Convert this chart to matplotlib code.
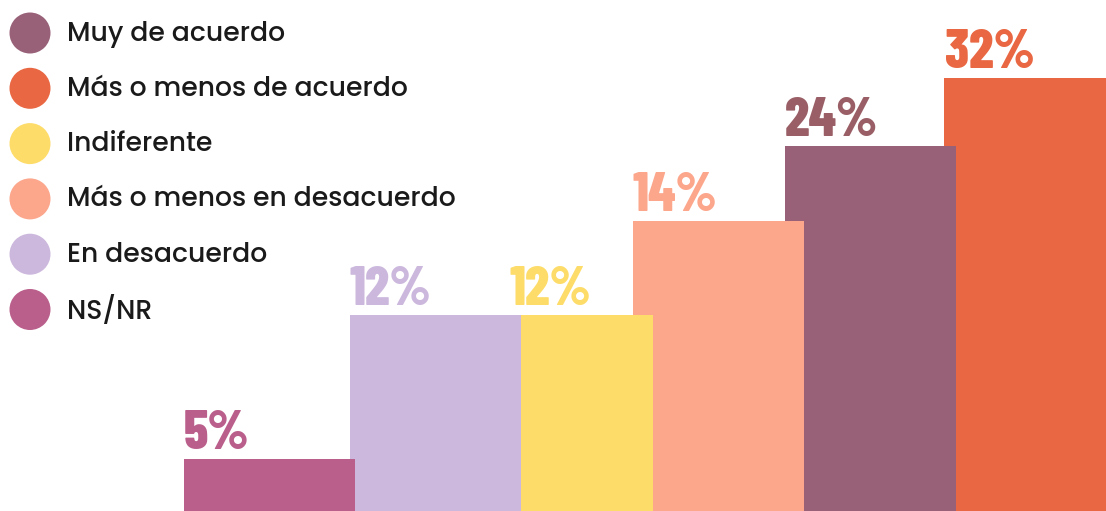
import numpy as np
import matplotlib
matplotlib.use("Agg")
import matplotlib.pyplot as plt
from matplotlib.patches import Circle
from matplotlib import font_manager

# ---- data ----
bar_categories = ["NS/NR", "En desacuerdo", "Indiferente",
                  "Más o menos en desacuerdo", "Muy de acuerdo",
                  "Más o menos de acuerdo"]
bar_values = [5, 12, 12, 14, 24, 32]
bar_labels = ["5%", "12%", "12%", "14%", "24%", "32%"]
legend_order = ["Muy de acuerdo", "Más o menos de acuerdo", "Indiferente",
                "Más o menos en desacuerdo", "En desacuerdo", "NS/NR"]

# ---- styles / layout ----
colors = {
    "Muy de acuerdo": "#986178",
    "Más o menos de acuerdo": "#E96742",
    "Indiferente": "#FDDC6A",
    "Más o menos en desacuerdo": "#FCA68C",
    "En desacuerdo": "#CCB8DD",
    "NS/NR": "#BA5F8B",
}
label_colors = {
    "Muy de acuerdo": "#9A5F66",
    "Más o menos de acuerdo": "#E96742",
    "Indiferente": "#FDDC6A",
    "Más o menos en desacuerdo": "#FCA68C",
    "En desacuerdo": "#CCB8DD",
    "NS/NR": "#BA5F8B",
}
bar_left = [184, 350, 519.5, 632.5, 785, 944]
bar_width = [171, 171, 133, 171, 171, 171]
label_dx = [0, 0, -10.5, 0, 0, 1]

W, H = 1106, 511
# visual (non-linear) value -> pixel-height mapping used by the infographic
anchor_vals = np.array([0, 5, 12, 14, 24, 32, 45])
anchor_px = np.array([0, 52, 196, 290, 365, 433.5, 540])

def fwd(v):
    return np.interp(v, anchor_vals, anchor_px)

def inv(p):
    return np.interp(p, anchor_px, anchor_vals)

avail = {f.name for f in font_manager.fontManager.ttflist}

def pick(cands):
    for c in cands:
        if c in avail:
            return c
    return "DejaVu Sans"

num_font = pick(["Barlow Condensed", "Roboto Condensed", "Bebas Neue", "DejaVu Sans"])
leg_font = pick(["Poppins", "DejaVu Sans"])

fig = plt.figure(figsize=(W / 100, H / 100), dpi=100)
ax = fig.add_axes([0, 0, 1, 1])
ax.set_yscale("function", functions=(fwd, inv))
ax.set_xlim(0, W)
ax.set_ylim(0, float(inv(H)))
ax.axis("off")

n = len(bar_values)
for i in range(n):
    cat = bar_categories[i]
    ax.bar(bar_left[i], bar_values[i], width=bar_width[i], align="edge",
           color=colors[cat], zorder=10 + (n - i), linewidth=0)
    ax.annotate(bar_labels[i], xy=(bar_left[i] + label_dx[i], bar_values[i]),
                xytext=(0, 10), textcoords="offset pixels",
                ha="left", va="baseline", fontsize=39, fontweight=800,
                family=[num_font, "DejaVu Sans"], color=label_colors[cat],
                zorder=30)

# legend overlay in pixel coordinates
lax = fig.add_axes([0, 0, 1, 1], zorder=5)
lax.set_xlim(0, W)
lax.set_ylim(H, 0)
lax.axis("off")
lax.patch.set_alpha(0)
legend_y0, legend_dy = 33, 55.3
for j, cat in enumerate(legend_order):
    y = legend_y0 + j * legend_dy
    lax.add_patch(Circle((30, y), 20.5, color=colors[cat], linewidth=0))
    lax.text(67, y + 1, cat, ha="left", va="center", fontsize=19.2,
             fontweight=500, family=[leg_font, "DejaVu Sans"], color="#1a1a1a")

fig.savefig("out.png", dpi=100, facecolor="white")
